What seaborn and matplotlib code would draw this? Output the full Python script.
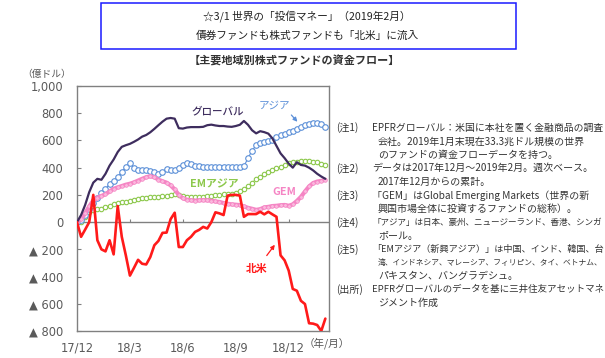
import matplotlib
matplotlib.use("Agg")
import matplotlib.pyplot as plt
import seaborn as sns
import pandas as pd
from matplotlib.patches import Rectangle

# ---------------- data (cumulative flows, 100 million USD, weekly) ----------------
weeks = list(range(62))
north_america = [0, -108, -55, 0, 200, -133, -200, -215, -133, -237, 118, -108, -245, -393,
                 -336, -277, -306, -311, -257, -170, -138, -79, -77, 22, 69, -183, -183, -133,
                 -108, -72, -57, -35, -47, 0, 72, 64, 52, 195, 200, 200, 195, 39, 59, 59, 59,
                 76, 57, 76, 57, 39, -244, -281, -356, -491, -504, -578, -602, -743, -746,
                 -756, -800, -709]
global_funds = [0, 52, 126, 220, 290, 318, 311, 355, 415, 460, 515, 553, 565, 575, 590, 607,
                628, 640, 660, 685, 712, 738, 760, 765, 760, 690, 687, 695, 698, 698, 698, 700,
                712, 716, 710, 706, 706, 702, 700, 706, 715, 743, 715, 675, 652, 668, 661, 650,
                615, 560, 505, 470, 430, 400, 440, 420, 415, 400, 380, 355, 335, 318]
asia = [0, 15, 50, 95, 140, 180, 215, 245, 280, 305, 330, 370, 405, 435, 395, 385, 385, 385,
        378, 365, 352, 370, 390, 380, 380, 395, 420, 435, 425, 415, 410, 405, 405, 405, 405,
        405, 405, 405, 405, 405, 405, 410, 470, 525, 565, 580, 587, 595, 605, 625, 638, 650,
        661, 668, 682, 700, 712, 722, 731, 731, 718, 702]
gem = [0, 20, 65, 115, 160, 180, 192, 205, 225, 245, 255, 265, 275, 282, 292, 305, 318, 330,
       337, 330, 312, 300, 290, 270, 240, 200, 175, 165, 160, 158, 160, 162, 160, 158, 152,
       148, 140, 135, 130, 128, 125, 115, 105, 98, 90, 95, 108, 112, 118, 120, 124, 126, 120,
       130, 155, 185, 225, 262, 287, 298, 303, 311]
em_asia = [0, 3, 40, 72, 88, 93, 100, 110, 122, 130, 138, 145, 150, 156, 162, 168, 174, 178,
           182, 183, 185, 190, 195, 200, 206, 200, 193, 188, 185, 183, 185, 188, 190, 193, 198,
           200, 203, 206, 210, 214, 225, 240, 265, 290, 315, 335, 350, 365, 380, 395, 408, 420,
           432, 440, 445, 448, 448, 448, 445, 440, 430, 418]

x_tick_pos = [0, 13, 26, 39, 52]
x_tick_labels = ["17/12", "18/3", "18/6", "18/9", "18/12"]
y_ticks = [-800, -600, -400, -200, 0, 200, 400, 600, 800, 1000]
y_tick_labels = ["▲ 800", "▲ 600", "▲ 400", "▲ 200", "0", "200", "400", "600", "800", "1,000"]

title_lines = ["☆3/1 世界の「投信マネー」（2019年2月）", "債券ファンドも株式ファンドも「北米」に流入"]
subtitle = "【主要地域別株式ファンドの資金フロー】"
notes = [
    ("(注1)", "EPFRグローバル：米国に本社を置く金融商品の調査", 0),
    ("", "会社。2019年1月末現在33.3兆ドル規模の世界", 1),
    ("", "のファンドの資金フローデータを持つ。", 1),
    ("(注2)", "データは2017年12月～2019年2月。週次ベース。", 0),
    ("", "2017年12月からの累計。", 1),
    ("(注3)", "「GEM」はGlobal Emerging Markets（世界の新", 0),
    ("", "興国市場全体に投資するファンドの総称）。", 1),
    ("(注4)", "「アジア」は日本、豪州、ニュージーランド、香港、シンガ", 0),
    ("", "ポール。", 1),
    ("(注5)", "「EMアジア（新興アジア）」は中国、インド、韓国、台", 0),
    ("", "湾、インドネシア、マレーシア、フィリピン、タイ、ベトナム、", 1),
    ("", "パキスタン、バングラデシュ。", 1),
    ("(出所)", "EPFRグローバルのデータを基に三井住友アセットマネ", 0),
    ("", "ジメント作成", 1),
]

# ---------------- style ----------------
sns.set_theme(style="white")
plt.rcParams["font.family"] = ["Noto Sans CJK JP", "DejaVu Sans"]

W, H = 605, 358
fig = plt.figure(figsize=(W / 100, H / 100), dpi=100)
ax = fig.add_axes([77 / W, 1 - 331 / H, (329 - 77) / W, (331 - 86) / H])

def fx(px):
    return px / W

def fy(py):
    return 1 - py / H

C_RED = "#ff1a1a"
C_GLOBAL = "#3e2d5e"
C_ASIA = "#5b8fd8"
C_EM = "#8cc84b"
C_GEM = "#f585c4"

df = pd.DataFrame({"week": weeks, "na": north_america, "gl": global_funds,
                   "asia": asia, "gem": gem, "em": em_asia})

sns.lineplot(data=df, x="week", y="em", ax=ax, color=C_EM, lw=0.8, marker="o",
             markersize=3.2, markerfacecolor="white", markeredgecolor=C_EM,
             markeredgewidth=0.8, zorder=3)
sns.lineplot(data=df, x="week", y="asia", ax=ax, color=C_ASIA, lw=0.8, marker="o",
             markersize=4.0, markerfacecolor="white", markeredgecolor=C_ASIA,
             markeredgewidth=0.8, zorder=4)
sns.lineplot(data=df, x="week", y="gem", ax=ax, color=C_GEM, lw=3.0, marker="o",
             markersize=2.6, markerfacecolor="#fbb8dd", markeredgecolor=C_GEM,
             markeredgewidth=0.5, zorder=5)
sns.lineplot(data=df, x="week", y="gl", ax=ax, color=C_GLOBAL, lw=1.6, zorder=6)
sns.lineplot(data=df, x="week", y="na", ax=ax, color=C_RED, lw=1.9, zorder=7)

ax.set_xlim(0, 61.9)
ax.set_ylim(-800, 1000)
ax.set_xlabel("")
ax.set_ylabel("")
ax.set_xticks(x_tick_pos)
ax.set_xticklabels(x_tick_labels)
ax.set_yticks(y_ticks)
ax.set_yticklabels(y_tick_labels)
for lab in ax.get_xticklabels() + ax.get_yticklabels():
    lab.set_fontfamily("DejaVu Sans")
    lab.set_fontsize(8.3)
    lab.set_color("#5a5a5a")
ax.tick_params(axis="x", length=0, pad=7.5)
ax.tick_params(axis="y", direction="in", length=3, width=0.8, color="#808080", pad=10, left=True)
for sp in ax.spines.values():
    sp.set_color("#808080")
    sp.set_linewidth(1.0)
ax.axhline(0, color="#808080", lw=1.0, zorder=2)
ax.vlines(x_tick_pos[1:], 0, 24, color="#808080", lw=0.8, zorder=2)

# series labels
ax.text(34.5, 815, "グローバル", color=C_GLOBAL, fontsize=7.6, ha="center", va="center",
        fontweight="medium")
ax.text(48.6, 855, "アジア", color=C_ASIA, fontsize=7.6, ha="center", va="center")
ax.annotate("", xy=(54.6, 722), xytext=(52.2, 802),
            arrowprops=dict(arrowstyle="-|>", color=C_ASIA, lw=0.9, mutation_scale=6))
ax.text(33.7, 274, "EMアジア", color=C_EM, fontsize=7.8, ha="center", va="center",
        fontweight="bold")
ax.text(50.9, 222, "GEM", color=C_GEM, fontsize=7.8, ha="center", va="center",
        fontweight="bold")
ax.text(44.2, -341, "北米", color=C_RED, fontsize=7.8, ha="center", va="center",
        fontweight="bold")
ax.annotate("", xy=(49.0, -150), xytext=(46.2, -262),
            arrowprops=dict(arrowstyle="-|>", color=C_RED, lw=0.9, mutation_scale=6))

# titles
fig.patches.append(Rectangle((fx(101), fy(49)), fx(516) - fx(101), fy(3) - fy(49),
                             transform=fig.transFigure, fill=False, edgecolor="#1a1aff",
                             lw=1.1))
fig.text(fx(307), fy(16.5), title_lines[0], ha="center", va="center", fontsize=7.7,
         color="#222222")
fig.text(fx(307), fy(35.5), title_lines[1], ha="center", va="center", fontsize=7.7,
         color="#222222")
fig.text(fx(294), fy(61.5), subtitle, ha="center", va="center", fontsize=8.0,
         fontweight="bold", color="#333333")
fig.text(fx(47), fy(74), "（億ドル）", ha="center", va="center", fontsize=7.0, color="#555555")
fig.text(fx(327), fy(343), "（年/月）", ha="center", va="center", fontsize=7.6, color="#555555")

# notes
note_texts = []
for k, (label, body, cont) in enumerate(notes):
    y = fy(128 + 13.45 * k)
    if label:
        fig.text(fx(336), y, label, ha="left", va="center", fontsize=7.2, color="#333333")
    xb = 378 if cont else 372
    t = fig.text(fx(xb), y, body, ha="left", va="center", fontsize=7.2, color="#333333")
    note_texts.append((t, xb))

fig.canvas.draw()
r = fig.canvas.get_renderer()
for t, xb in note_texts:
    w = t.get_window_extent(r).width
    avail = W - 2 - xb
    if w > avail:
        t.set_fontsize(7.2 * avail / w)

fig.savefig("out.png", dpi=100)
